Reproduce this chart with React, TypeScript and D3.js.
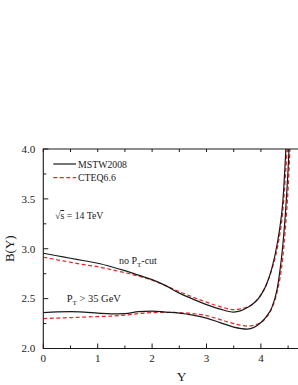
import React from 'react';
import * as d3 from 'd3';

const WIDTH = 298;
const HEIGHT = 385;
const MARGIN = { top: 149, left: 43.3, bottom: 36.5 };

// rapidity grid shared by every curve
const rapidity = [0, 0.25, 0.5, 0.75, 1.0, 1.25, 1.5, 1.75, 2.0, 2.25, 2.5, 2.75, 3.0, 3.25, 3.5, 3.75, 4.0, 4.1, 4.2, 4.3, 4.35, 4.4, 4.45, 4.5, 4.55];

const noCutMSTW = [2.955, 2.93, 2.905, 2.88, 2.855, 2.82, 2.78, 2.735, 2.69, 2.63, 2.555, 2.495, 2.44, 2.395, 2.365, 2.41, 2.535, 2.64, 2.8, 3.05, 3.22, 3.45, 3.9, 4.5, 5.2];
const noCutCTEQ = [2.915, 2.89, 2.865, 2.84, 2.82, 2.79, 2.76, 2.725, 2.685, 2.63, 2.57, 2.515, 2.465, 2.42, 2.39, 2.415, 2.54, 2.64, 2.79, 3.0, 3.15, 3.36, 3.72, 4.2, 4.9];
const ptCutMSTW = [2.36, 2.368, 2.37, 2.365, 2.355, 2.348, 2.35, 2.37, 2.375, 2.365, 2.355, 2.335, 2.305, 2.26, 2.215, 2.195, 2.26, 2.32, 2.41, 2.6, 2.78, 3.02, 3.35, 3.8, 4.4];
const ptCutCTEQ = [2.3, 2.305, 2.31, 2.315, 2.32, 2.325, 2.335, 2.35, 2.36, 2.362, 2.36, 2.35, 2.33, 2.29, 2.25, 2.225, 2.26, 2.31, 2.4, 2.57, 2.7, 2.9, 3.2, 3.6, 4.2];

const xMajor = [0, 1, 2, 3, 4];
const xMinor = [0.5, 1.5, 2.5, 3.5, 4.5];
const yMajor = [2.0, 2.5, 3.0, 3.5, 4.0];
const yMinor = [2.25, 2.75, 3.25, 3.75];

const FONT = '"Liberation Serif", "DejaVu Serif", serif';
const INK = '#1a1a1a';
const RED = '#ee2222';

export default function App() {
  const x = d3.scaleLinear().domain([0, 4.8]).range([MARGIN.left, MARGIN.left + 4.8 * 54.4]);
  const y = d3.scaleLinear().domain([2, 4]).range([HEIGHT - MARGIN.bottom, MARGIN.top]);
  const bottom = y(2);
  const top = y(4);
  const right = x(4.8);

  const line = (vals: number[]) =>
    d3.line<number>()
      .x((_, i) => x(rapidity[i]))
      .y(d => y(d))
      .curve(d3.curveMonotoneX)(vals) as string;

  const series = [
    { vals: noCutCTEQ, color: RED, dash: '4,2.5' },
    { vals: ptCutCTEQ, color: RED, dash: '4,2.5' },
    { vals: noCutMSTW, color: INK, dash: null },
    { vals: ptCutMSTW, color: INK, dash: null },
  ];

  return (
    <svg width={WIDTH} height={HEIGHT} style={{ position: 'absolute', left: 0, top: 0 }} fontFamily={FONT}>
      <defs>
        <clipPath id="plot">
          <rect x={x(0)} y={top} width={right - x(0)} height={bottom - top} />
        </clipPath>
      </defs>
      <rect width={WIDTH} height={HEIGHT} fill="#fff" />

      <g clipPath="url(#plot)">
        {series.map((s, i) => (
          <path key={i} d={line(s.vals)} fill="none" stroke={s.color} strokeWidth={1.2}
            strokeDasharray={s.dash ?? undefined} />
        ))}
      </g>

      {/* frame */}
      <path d={`M${right},${top}H${x(0)}V${bottom}H${right}`} fill="none" stroke={INK} strokeWidth={1.1} />

      {/* x ticks */}
      {xMajor.map(t => (
        <g key={'xm' + t}>
          <line x1={x(t)} x2={x(t)} y1={bottom} y2={bottom - 5} stroke={INK} />
          <line x1={x(t)} x2={x(t)} y1={top} y2={top + 3} stroke={INK} />
          <text x={x(t)} y={bottom + 13} fontSize={11} textAnchor="middle" fill={INK}>{t}</text>
        </g>
      ))}
      {xMinor.map(t => (
        <g key={'xn' + t}>
          <line x1={x(t)} x2={x(t)} y1={bottom} y2={bottom - 3} stroke={INK} />
          <line x1={x(t)} x2={x(t)} y1={top} y2={top + 3} stroke={INK} />
        </g>
      ))}

      {/* y ticks */}
      {yMajor.map(t => (
        <g key={'ym' + t}>
          <line x1={x(0)} x2={x(0) + 5} y1={y(t)} y2={y(t)} stroke={INK} />
          <text x={x(0) - 8} y={y(t)} dy="0.35em" fontSize={11} textAnchor="end" fill={INK}>{d3.format('.1f')(t)}</text>
        </g>
      ))}
      {yMinor.map(t => (
        <line key={'yn' + t} x1={x(0)} x2={x(0) + 3} y1={y(t)} y2={y(t)} stroke={INK} />
      ))}

      {/* axis titles */}
      <text transform={`translate(13.5, ${(top + bottom) / 2}) rotate(-90)`} fontSize={13} textAnchor="middle" fill={INK}>B(Y)</text>
      <text x={181.7} y={381} fontSize={13.5} textAnchor="middle" fill={INK}>Y</text>

      {/* legend */}
      <line x1={53.3} x2={76} y1={164} y2={164} stroke={INK} strokeWidth={1.2} />
      <text x={78} y={167.5} fontSize={9.8} fill={INK}>MSTW2008</text>
      <line x1={53.3} x2={76} y1={177.7} y2={177.7} stroke={RED} strokeWidth={1.2} strokeDasharray="4,2.5" />
      <text x={78} y={181.2} fontSize={9.8} fill={INK}>CTEQ6.6</text>

      {/* annotations */}
      <text x={55} y={219} fontSize={9.8} fill={INK}>
        √<tspan textDecoration="overline">s</tspan> = 14 TeV
      </text>
      <text x={119} y={264} fontSize={10} fill={INK}>
        no P<tspan fontSize={7} dy={2.5}>T</tspan><tspan dy={-2.5}>-cut</tspan>
      </text>
      <text x={66.7} y={302} fontSize={10.5} fill={INK}>
        P<tspan fontSize={7} dy={2.5}>T</tspan><tspan dy={-2.5}> &gt; 35 GeV</tspan>
      </text>
    </svg>
  );
}
